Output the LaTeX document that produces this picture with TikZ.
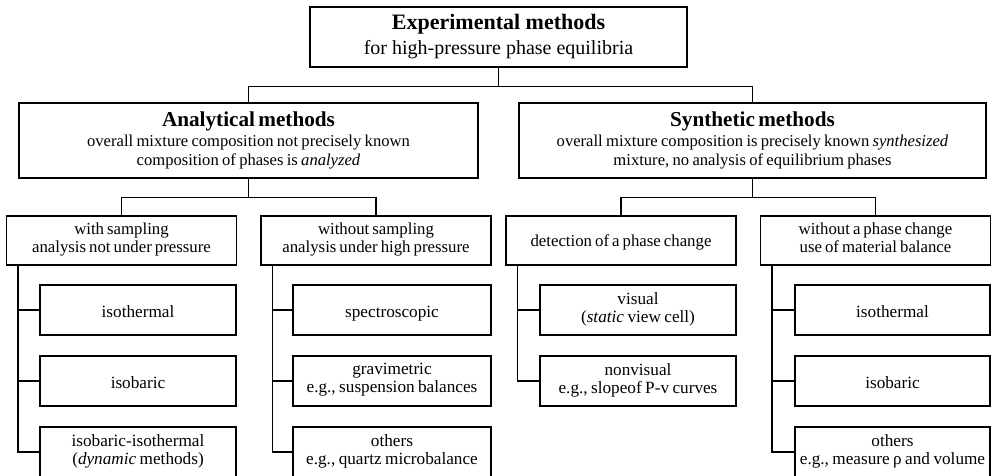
\documentclass[tikz,border=0pt]{standalone}
\usepackage{fontspec}
\setmainfont{Liberation Serif}
\usetikzlibrary{positioning}

\begin{document}
\begin{tikzpicture}[x=0.5pt,y=-0.5pt,line width=0.6pt,
  box/.style={draw,align=center,inner sep=0pt},
  rootbox/.style={box,minimum width=188.5pt,minimum height=30pt,font=\fontsize{10}{12}\selectfont},
  mainbox/.style={box,minimum width=#1,minimum height=37.5pt,font={\fontsize{8.3}{9.5}\selectfont\spaceskip 0.2em plus 0.05em\relax},
    execute at begin node={\rule{0pt}{10pt}}},
  groupbox/.style={box,minimum width=115pt,minimum height=24.5pt,font={\fontsize{8.4}{9.2}\selectfont\spaceskip 0.18em plus 0.05em\relax},
    execute at begin node={\rule{0pt}{9pt}},execute at end node=\strut},
  leafbox/.style={box,minimum width=98pt,minimum height=25pt,font={\fontsize{8.6}{9}\selectfont\spaceskip 0.2em plus 0.05em\relax},
    execute at begin node={\rule{0pt}{10pt}},execute at end node=\strut}]
\clip (0,0) rectangle (993,476);

% top
\node[rootbox] (top) at (498.5,37) {{\fontsize{11}{13}\selectfont\bfseries Experimental methods}\\[0.5pt]for high-pressure phase equilibria};

% analytical / synthetic
\node[mainbox=229.5pt] (ana) at (248.5,140.5) {{\fontsize{10.6}{13}\selectfont\bfseries Analytical methods}\\[0.8pt]overall mixture composition not precisely known\\composition of phases is \textit{analyzed}};
\node[mainbox=233.5pt] (syn) at (752.5,140.5) {{\fontsize{10.6}{13}\selectfont\bfseries Synthetic methods}\\[0.8pt]overall mixture composition is precisely known \textit{synthesized}\\mixture, no analysis of equilibrium phases};

\draw (top.south) -- ++(0,19) -| (ana.north);
\draw (top.south) -- ++(0,19) -| (syn.north);

% second level
\node[groupbox] (ws) at (121.5,240.5) {with sampling\\analysis not under pressure};
\node[groupbox] (wos) at (376,240.5) {without sampling\\analysis under high pressure};
\node[groupbox] (det) at (621,240.5) {detection of a phase change};
\node[groupbox] (wpc) at (875.5,240.5) {without a phase change\\use of material balance};

\draw (ana.south) -- ++(0,19) -| (ws.north);
\draw (ana.south) -- ++(0,19) -| (wos.north);
\draw (syn.south) -- ++(0,19) -| (det.north);
\draw (syn.south) -- ++(0,19) -| (wpc.north);

% leaves
\node[leafbox] (wsA) at (138,310) {isothermal};
\node[leafbox] (wsB) at (138,381) {isobaric};
\node[leafbox] (wsC) at (138,452) {isobaric-isothermal\\(\textit{dynamic} methods)};

\node[leafbox,minimum width=99pt] (wosA) at (392,310) {spectroscopic};
\node[leafbox,minimum width=99pt] (wosB) at (392,381) {gravimetric\\e.g., suspension balances};
\node[leafbox,minimum width=99pt] (wosC) at (392,452) {others\\e.g., quartz microbalance};

\node[leafbox] (detA) at (638,310) {visual\\(\textit{static} view cell)};
\node[leafbox] (detB) at (638,381) {nonvisual\\e.g., slopeof P-v curves};

\node[leafbox,minimum width=97.5pt] (wpcA) at (892.5,310) {isothermal};
\node[leafbox,minimum width=97.5pt] (wpcB) at (892.5,381) {isobaric};
\node[leafbox,minimum width=97.5pt] (wpcC) at (892.5,452) {others\\e.g., measure ρ and volume};

\foreach \p/\c in {ws/wsA,ws/wsB,ws/wsC,wos/wosA,wos/wosB,wos/wosC,det/detA,det/detB,wpc/wpcA,wpc/wpcB,wpc/wpcC}
  \draw ([xshift=6pt]\p.south west) |- (\c.west);
\end{tikzpicture}
\end{document}
